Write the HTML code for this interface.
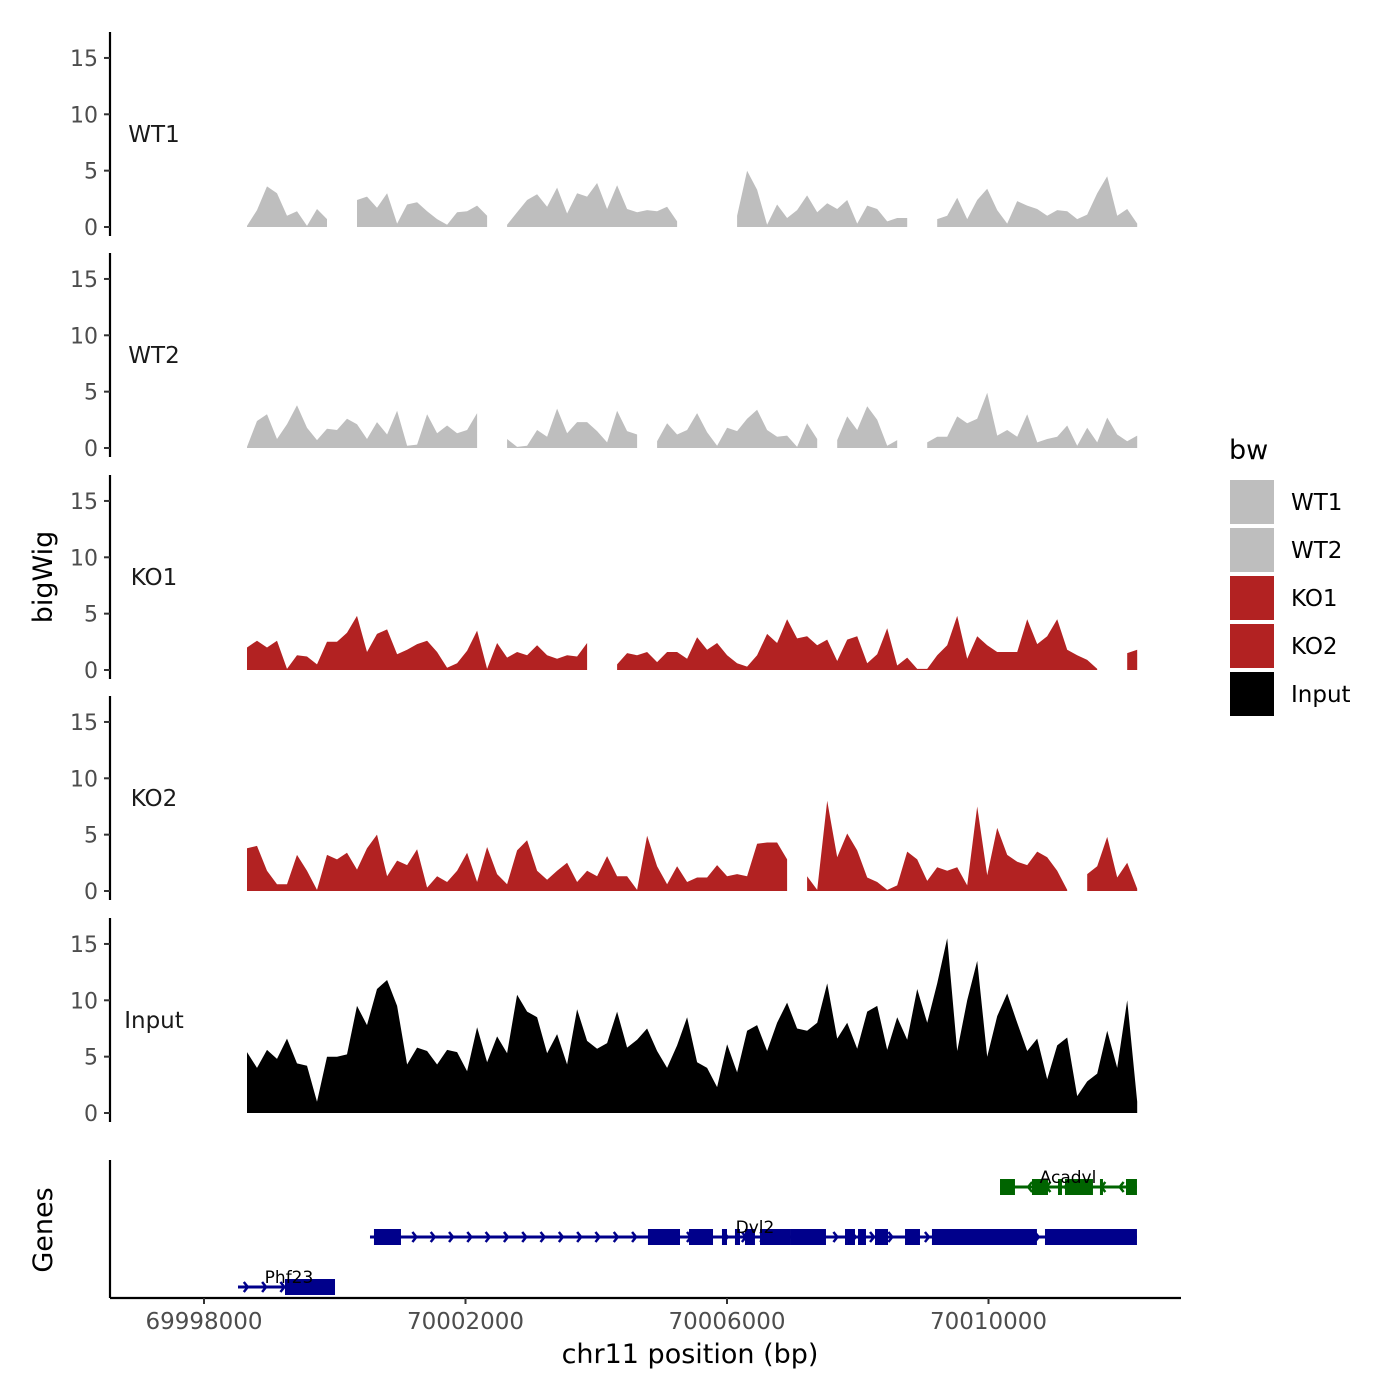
<!DOCTYPE html>
<html><head><meta charset="utf-8"><style>
body{margin:0;background:#fff}
svg{display:block;font-family:"DejaVu Sans","Liberation Sans",sans-serif}
</style></head><body>
<svg id="chart" width="1400" height="1400" viewBox="0 0 1400 1400"></svg>
<script>
const binStart = 69998658;
const binStep = 153;
const trackNames = ["WT1","WT2","KO1","KO2","Input"];
const trackColors = ["#bebebe","#bebebe","#b22222","#b22222","#000000"];
const wt1 = [0.1,1.5,3.6,3.0,1.0,1.4,0.1,1.6,0.7,null,null,2.4,2.7,1.7,3.0,0.3,2.0,2.2,1.4,0.7,0.2,1.3,1.4,1.9,1.0,null,0.2,1.3,2.4,2.9,1.8,3.5,1.2,3.0,2.7,3.9,1.6,3.7,1.6,1.3,1.5,1.4,1.8,0.5,null,null,null,null,null,1.0,5.0,3.3,0.2,2.0,0.8,1.5,2.8,1.3,2.1,1.6,2.4,0.3,1.9,1.6,0.5,0.8,0.8,null,null,0.7,1.0,2.6,0.7,2.4,3.4,1.5,0.3,2.3,1.9,1.6,1.0,1.5,1.4,0.7,1.1,3.0,4.5,1.0,1.6,0.3];
const wt2 = [0.1,2.4,3.0,0.8,2.1,3.8,1.8,0.7,1.7,1.6,2.6,2.1,0.8,2.3,1.2,3.3,0.2,0.3,3.0,1.3,2.0,1.3,1.6,3.1,null,null,0.8,0.1,0.2,1.6,1.0,3.5,1.3,2.3,2.3,1.5,0.5,3.3,1.5,1.2,null,0.6,2.2,1.2,1.6,3.1,1.4,0.2,1.8,1.5,2.6,3.4,1.6,1.0,1.1,0.1,2.2,0.8,null,0.7,2.8,1.6,3.7,2.5,0.2,0.7,null,null,0.5,1.0,1.0,2.8,2.2,2.6,4.9,1.1,1.6,1.0,3.0,0.5,0.8,1.0,2.0,0.2,1.8,0.5,2.7,1.2,0.6,1.1];
const ko1 = [2.0,2.6,2.0,2.6,0.1,1.3,1.2,0.5,2.5,2.5,3.3,4.8,1.6,3.2,3.6,1.4,1.8,2.3,2.6,1.6,0.2,0.6,1.7,3.5,0.1,2.4,1.1,1.6,1.3,2.2,1.3,1.0,1.3,1.2,2.4,null,null,0.5,1.5,1.3,1.6,0.7,1.6,1.6,1.0,2.9,1.8,2.4,1.3,0.6,0.3,1.3,3.2,2.4,4.5,2.8,3.0,2.2,2.7,0.8,2.7,3.0,0.6,1.4,3.7,0.4,1.1,0.1,0.1,1.3,2.2,4.8,1.0,3.0,2.2,1.6,1.6,1.6,4.5,2.3,3.0,4.5,1.8,1.3,0.9,0.1,null,null,1.5,1.8];
const ko2 = [3.8,4.0,1.8,0.6,0.6,3.2,1.8,0.1,3.2,2.8,3.4,1.9,3.8,5.0,1.3,2.7,2.3,3.7,0.3,1.3,0.8,1.8,3.4,0.8,3.9,1.5,0.6,3.6,4.5,1.8,1.0,1.8,2.5,0.8,1.8,1.3,3.1,1.3,1.3,0.1,4.9,2.2,0.6,2.2,0.8,1.2,1.2,2.3,1.3,1.5,1.3,4.2,4.3,4.3,2.8,null,1.3,0.1,8.0,3.0,5.1,3.6,1.2,0.8,0.1,0.5,3.5,2.8,0.9,2.1,1.8,2.1,0.5,7.5,1.4,5.6,3.2,2.6,2.3,3.5,3.0,1.8,0.1,null,1.5,2.2,4.8,1.2,2.5,0.2];
const input = [5.4,4.0,5.6,4.8,6.6,4.4,4.2,1.0,5.0,5.0,5.2,9.5,7.8,11.0,11.8,9.5,4.3,5.8,5.5,4.3,5.6,5.4,3.7,7.6,4.5,6.8,5.3,10.5,9.0,8.5,5.3,7.0,4.3,9.2,6.4,5.7,6.2,9.0,5.8,6.5,7.5,5.5,4.0,6.0,8.5,4.5,4.0,2.3,6.1,3.6,7.3,7.8,5.5,8.0,9.8,7.5,7.3,8.0,11.5,6.6,8.0,5.7,9.0,9.5,5.6,8.5,6.5,11.0,8.0,11.5,15.5,5.5,10.0,13.5,5.0,8.6,10.6,8.0,5.5,6.6,3.0,6.0,6.7,1.5,2.8,3.5,7.3,4.0,10.0,1.0];
const yTicks = [0,5,10,15];
const xTicks = [69998000,70002000,70006000,70010000];
const xTickLabels = ["69998000","70002000","70006000","70010000"];
const geneNames = ["Phf23","Dvl2","Acadvl"];
const geneStarts = [69998520,70000539,70010176];
const geneEnds = [69999239,70012271,70012271];
const geneStrands = [1,1,-1];
const geneColors = ["#00008b","#00008b","#006400"];
const geneRows = [1287,1237,1187];
const geneExons = [
 [[69999239,70000004]],
 [[70000600,70001013],[70004791,70005281],[70005419,70005786],[70005923,70006000],[70006122,70006199],[70006275,70006428],[70006505,70006964],[70006964,70007514],[70007805,70007958],[70008004,70008126],[70008264,70008463],[70008723,70008952],[70009135,70010741],[70010864,70012271]],
 [[70010176,70010405],[70010665,70010910],[70011063,70011124],[70011170,70011598],[70011705,70011751],[70012103,70012271]]
];
const tracks=[wt1,wt2,ko1,ko2,input];

const NS="http://www.w3.org/2000/svg";
const svg=document.getElementById('chart');
function mk(tag,attrs,parent,txt){const e=document.createElementNS(NS,tag);for(const k in attrs)e.setAttribute(k,attrs[k]);if(txt!==undefined)e.textContent=txt;(parent||svg).appendChild(e);return e;}
function xs(bp){return 204+(bp-69998000)*261.5/4000;}
const zeroY=[227,448,670,891,1113];
const panelTop=[32,253,475,696,918];
const unit=11.27;

tracks.forEach((vals,t)=>{
  const g=mk('g',{});
  
  
  const y=v=>zeroY[t]-v*unit;
  let run=[];
  const flush=()=>{
    if(run.length){
      let d='M'+xs(run[0][0]).toFixed(1)+','+zeroY[t];
      run.forEach(p=>{d+=' L'+xs(p[0]).toFixed(1)+','+y(p[1]).toFixed(1);});
      d+=' L'+xs(run[run.length-1][0]).toFixed(1)+','+zeroY[t]+' Z';
      const p=mk('path',{d:d,fill:trackColors[t]},g);
      
      
    }
    run=[];
  };
  vals.forEach((v,i)=>{ if(v===null){flush();} else run.push([binStart+i*binStep,v]); });
  flush();
  const ax=mk('line',{x1:110,x2:110,y1:panelTop[t],y2:zeroY[t]+9,stroke:'#000','stroke-width':2.2});
  
  
  yTicks.forEach(v=>{
    mk('line',{x1:104,x2:110,y1:y(v),y2:y(v),stroke:'#333','stroke-width':2});
    const tl=mk('text',{x:98,y:y(v)+8,'text-anchor':'end','font-size':22,fill:'#4d4d4d'},svg,String(v));
    
    
  });
  const lbl=mk('text',{x:154,y:zeroY[t]-85,'text-anchor':'middle','font-size':23,fill:'#1a1a1a'},svg,trackNames[t]);
  
  
});

// genes
const ga=mk('line',{x1:110,x2:110,y1:1160,y2:1298,stroke:'#000','stroke-width':2.2});


geneNames.forEach((n,i)=>{
  const g=mk('g',{});
  
  
  const c=geneColors[i], y=geneRows[i];
  mk('line',{x1:xs(geneStarts[i]),x2:xs(geneEnds[i]),y1:y,y2:y,stroke:c,'stroke-width':3},g);
  for(let bp=geneStarts[i]+150;bp<geneEnds[i];bp+=280){
    const x=xs(bp),s=geneStrands[i];
    mk('polyline',{points:(x-4*s)+','+(y-5)+' '+x+','+y+' '+(x-4*s)+','+(y+5),fill:'none',stroke:c,'stroke-width':2.5},g);
  }
  geneExons[i].forEach(e=>{
    const r=mk('rect',{x:xs(e[0]),y:y-8,width:Math.max(2,xs(e[1])-xs(e[0])),height:16,fill:c},g);
    
    
  });
  const tl=mk('text',{x:i===0?289:(i===1?755:1068),y:y-4,'text-anchor':'middle','font-size':17,fill:'#000'},g,n);
  
  
});

// x axis
const xa=mk('line',{x1:110,x2:1181,y1:1298,y2:1298,stroke:'#000','stroke-width':2.2});


xTicks.forEach((v,i)=>{
  mk('line',{x1:xs(v),x2:xs(v),y1:1298,y2:1304,stroke:'#333','stroke-width':2});
  const tl=mk('text',{x:xs(v),y:1329,'text-anchor':'middle','font-size':23,fill:'#4d4d4d'},svg,xTickLabels[i]);
  
  
});
const xt=mk('text',{x:690,y:1363,'text-anchor':'middle','font-size':27,fill:'#000'},svg,'chr11 position (bp)');


const yt=mk('text',{x:0,y:0,transform:'translate(52,577) rotate(-90)','text-anchor':'middle','font-size':27,fill:'#000'},svg,'bigWig');


const gt=mk('text',{x:0,y:0,transform:'translate(52,1230) rotate(-90)','text-anchor':'middle','font-size':27,fill:'#000'},svg,'Genes');



// legend
const lg=mk('g',{});


const lt=mk('text',{x:1229,y:459,'font-size':27,fill:'#000'},lg,'bw');


trackNames.forEach((n,i)=>{
  const y=480+i*48;
  const r=mk('rect',{x:1230,y:y,width:44,height:44,fill:trackColors[i]},lg);
  
  
  const t=mk('text',{x:1291,y:y+30,'font-size':23,fill:'#000'},lg,n);
  
  
});
</script>
</body></html>
